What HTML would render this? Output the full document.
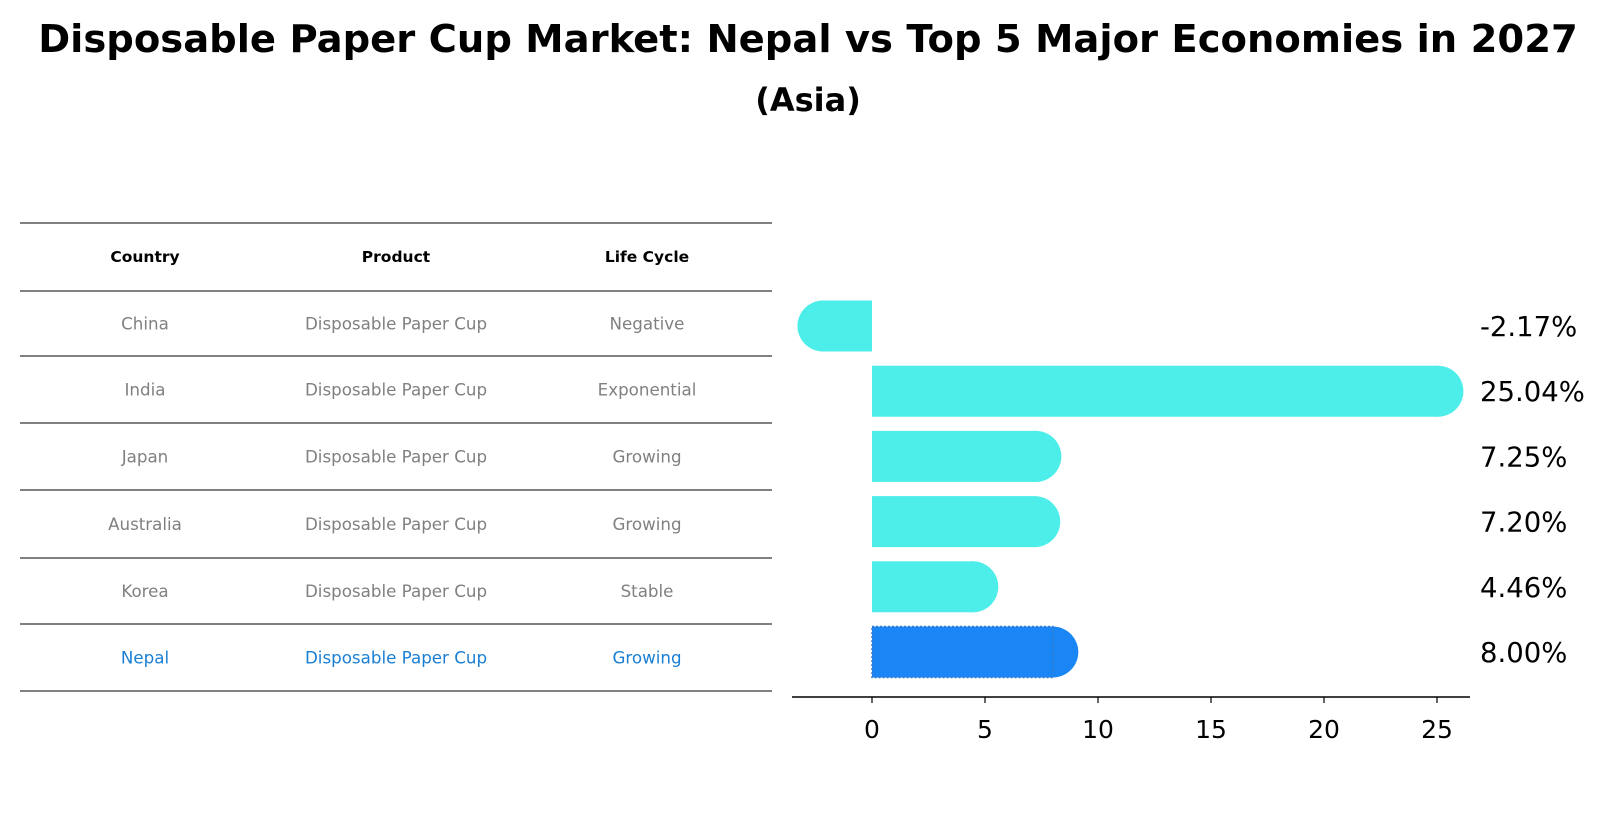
<!DOCTYPE html>
<html><head><meta charset="utf-8"><style>
body{margin:0;background:#fff;width:1604px;height:823px;overflow:hidden;font-family:"Liberation Sans","DejaVu Sans",sans-serif}
</style></head><body>
<svg width="1604" height="823" xmlns="http://www.w3.org/2000/svg" font-family="DejaVu Sans, Liberation Sans, sans-serif">
<text x="808" y="52" text-anchor="middle" font-size="38.5" font-weight="bold">Disposable Paper Cup Market: Nepal vs Top 5 Major Economies in 2027</text>
<text x="808" y="111" text-anchor="middle" font-size="32" font-weight="bold">(Asia)</text>
<g id="table"></g>
<g id="bars"></g>
<g id="axis"></g>
</svg>
<script>
const countries=["China","India","Japan","Australia","Korea","Nepal"];
const products=["Disposable Paper Cup","Disposable Paper Cup","Disposable Paper Cup","Disposable Paper Cup","Disposable Paper Cup","Disposable Paper Cup"];
const lifeCycles=["Negative","Exponential","Growing","Growing","Stable","Growing"];
const growth=[-2.17,25.04,7.25,7.20,4.46,8.00];
const xTicks=[0,5,10,15,20,25];
const NS="http://www.w3.org/2000/svg";
function mk(tag,attrs,parent){const e=document.createElementNS(NS,tag);for(const k in attrs)e.setAttribute(k,attrs[k]);parent.appendChild(e);return e;}
const x=v=>872+v*22.6;
const rowY=i=>326+i*65.2;
const bh=51;
const tb=document.getElementById('table');
const lines=[223,291,356,423,490,558,624,691];
lines.forEach((ly,i)=>{const l=mk('line',{x1:20,x2:772,y1:ly,y2:ly,stroke:'#000','stroke-width':1},tb);

});
const colX=[145,396,647];
["Country","Product","Life Cycle"].forEach((h,j)=>{const t=mk('text',{x:colX[j],y:262,'text-anchor':'middle','font-size':15.5,'font-weight':'bold'},tb);t.textContent=h;

});
countries.forEach((c,i)=>{const cy=(lines[i+1]+lines[i+2])/2+6;const col=c==="Nepal"?"#1a7fd4":"#808080";
[c,products[i],lifeCycles[i]].forEach((v,j)=>{const t=mk('text',{x:colX[j],y:cy,'text-anchor':'middle','font-size':16.7,fill:col},tb);t.textContent=v;

});});
const bg=document.getElementById('bars');
growth.forEach((v,i)=>{const nep=countries[i]==="Nepal";const fill=nep?"#1a86f5":"#4deeea";const cy=rowY(i);
const c=mk('circle',{cx:x(v),cy:cy,r:bh/2,fill:fill},bg);


const r=mk('rect',{x:Math.min(x(0),x(v)),y:cy-bh/2,width:Math.abs(x(v)-x(0)),height:bh,fill:fill},bg);
if(nep){r.setAttribute('stroke','#3a78c8');r.setAttribute('stroke-dasharray','2,2');r.setAttribute('stroke-width','1.5');}


const t=mk('text',{x:1480,y:cy+10,'font-size':27.5},bg);t.textContent=v.toFixed(2)+"%";

});
const ax=document.getElementById('axis');
const al=mk('line',{x1:792,x2:1470,y1:697,y2:697,stroke:'#000','stroke-width':1.5},ax);


xTicks.forEach(v=>{const tk=mk('line',{x1:x(v),x2:x(v),y1:697,y2:703,stroke:'#000','stroke-width':1.2},ax);


const t=mk('text',{x:x(v),y:738,'text-anchor':'middle','font-size':25},ax);t.textContent=v;

});
</script>
</body></html>
